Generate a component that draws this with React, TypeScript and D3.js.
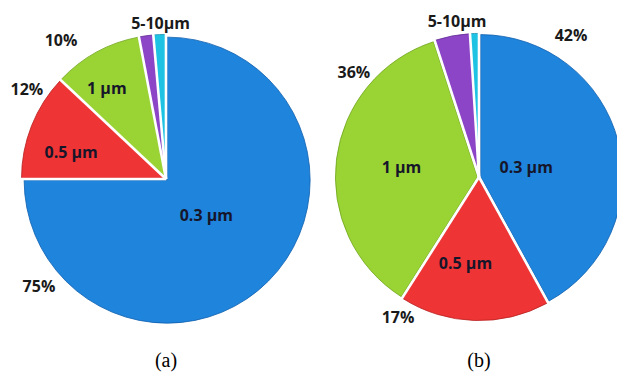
import * as d3 from 'd3'

const W = 617
const H = 372

// particle size classes, clockwise from 12 o'clock
const SIZES = ['0.3 µm', '0.5 µm', '1 µm', '5 µm', '10 µm']
const COLORS = ['#1f84dc', '#ee3434', '#9ad334', '#8b45c6', '#1ec3e3']
const EDGES = ['#0f5fae', '#b82020', '#6fa51c', '#5e2a92', '#1391b0']

// shares in %
const SHARE_A = [75, 12, 10, 1.6, 1.4]
const SHARE_B = [42, 17, 36, 4, 1]

const PCT_A = ['75%', '12%', '10%']
const PCT_B = ['42%', '17%', '36%']

// label placement (angle in degrees from north, radius as fraction of r)
const INNER_A = [{ a: 132, f: 0.38 }, { a: 286, f: 0.69 }, { a: 327, f: 0.76 }]
const OUTER_A = [{ a: 230, f: 1.16 }, { a: 303, f: 1.16 }, { a: 323, f: 1.22 }]
const INNER_B = [{ a: 78, f: 0.34 }, { a: 189, f: 0.61 }, { a: 277, f: 0.55 }]
const OUTER_B = [{ a: 33, f: 1.19 }, { a: 210, f: 1.14 }, { a: 310, f: 1.15 }]

const FONT = '"Open Sans", "Liberation Sans", sans-serif'
const FS = 16

function Pie({ cx, cy, r, shares, pct, inner, outer, small, caption }) {
  const pie = d3.pie<number>().sort(null).value(d => d)
  const arcs = pie(shares)
  const arc = d3.arc<d3.PieArcDatum<number>>().innerRadius(0).outerRadius(r)
  const explode = 1.6
  const rad = (deg: number) => (deg * Math.PI) / 180

  return (
    <g transform={`translate(${cx},${cy})`}>
      {arcs.map((a, i) => {
        const mid = (a.startAngle + a.endAngle) / 2
        const [ox, oy] = d3.pointRadial(mid, explode)
        return (
          <path
            key={i}
            d={arc(a) || ''}
            transform={`translate(${ox},${oy})`}
            fill={COLORS[i]}
            stroke={EDGES[i]}
            strokeWidth={0.8}
          />
        )
      })}
      {/* separators */}
      {arcs.map((a, i) => {
        const [x, y] = d3.pointRadial(a.startAngle, r + 3)
        return <line key={`s${i}`} x1={0} y1={0} x2={x} y2={y} stroke="#fff" strokeWidth={2.6} />
      })}
      {inner.map((p, i) => {
        const [x, y] = d3.pointRadial(rad(p.a), p.f * r)
        return (
          <text key={`i${i}`} x={x} y={y} textAnchor="middle" dominantBaseline="central"
            fontFamily={FONT} fontWeight={700} fontSize={FS} fill="#16162a">
            {SIZES[i]}
          </text>
        )
      })}
      {outer.map((p, i) => {
        const [x, y] = d3.pointRadial(rad(p.a), p.f * r)
        return (
          <text key={`o${i}`} x={x} y={y} textAnchor="middle" dominantBaseline="central"
            fontFamily={FONT} fontWeight={700} fontSize={FS} fill="#1a1a1a">
            {pct[i]}
          </text>
        )
      })}
      {(() => {
        const [x, y] = d3.pointRadial(rad(small.a), small.f * r)
        return (
          <text x={x} y={y} textAnchor="middle" dominantBaseline="central"
            fontFamily={FONT} fontWeight={700} fontSize={FS} fill="#1a1a1a">
            5-10µm
          </text>
        )
      })()}
      <text x={0} y={367 - cy} textAnchor="middle" fontFamily='"Liberation Serif", "Times New Roman", serif'
        fontSize={20} fill="#000">
        {caption}
      </text>
    </g>
  )
}

export default function App() {
  return (
    <div style={{ position: 'absolute', left: 0, top: 0, width: W, height: H, background: '#fff' }}>
      <svg width={W} height={H} style={{ display: 'block' }}>
        <rect width={W} height={H} fill="#fff" />
        <Pie cx={166} cy={179} r={143} shares={SHARE_A} pct={PCT_A}
          inner={INNER_A} outer={OUTER_A} small={{ a: 358, f: 1.09 }} caption="(a)" />
        <Pie cx={479} cy={177} r={142} shares={SHARE_B} pct={PCT_B}
          inner={INNER_B} outer={OUTER_B} small={{ a: 352, f: 1.11 }} caption="(b)" />
      </svg>
    </div>
  )
}
